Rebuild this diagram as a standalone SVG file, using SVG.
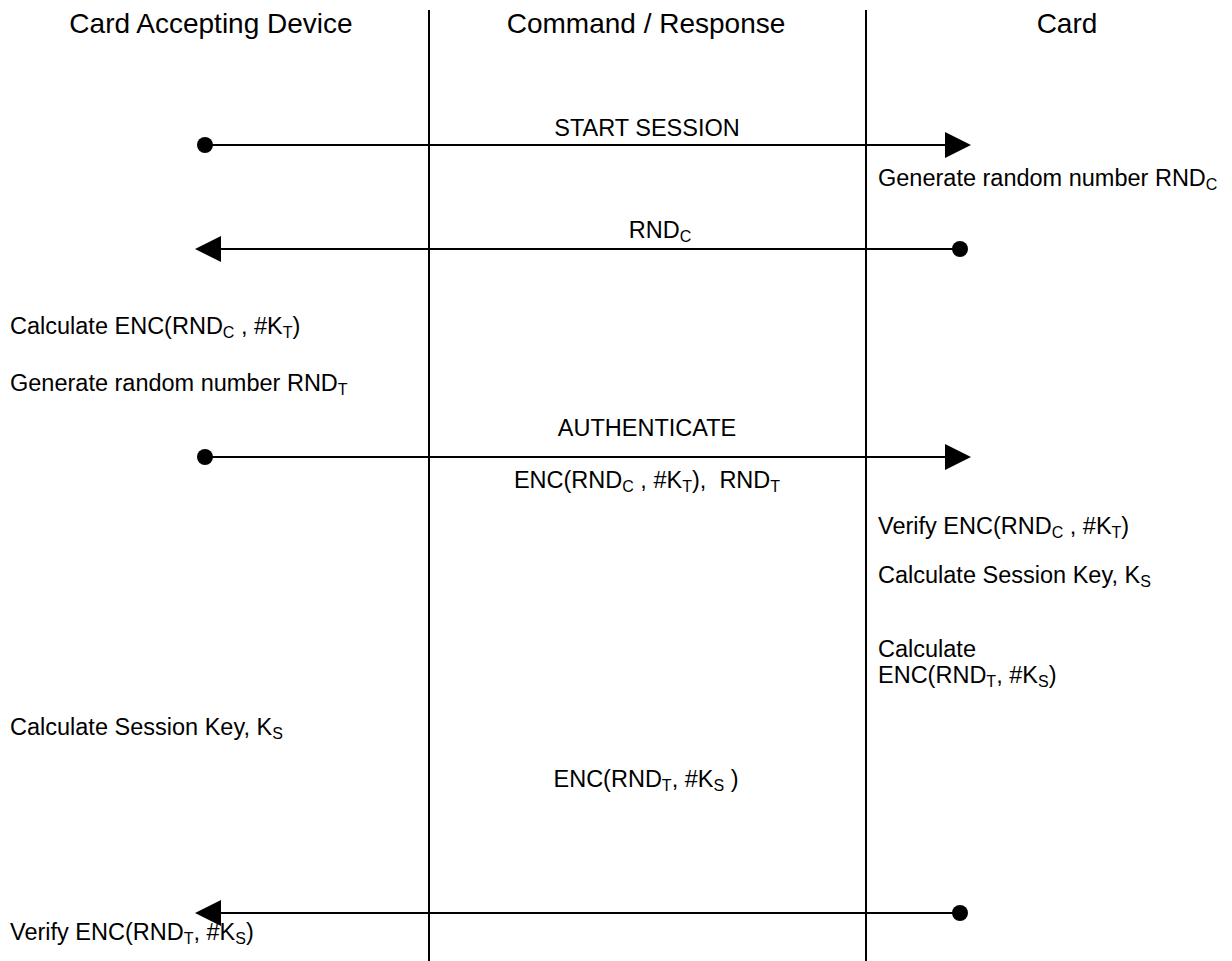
<svg xmlns="http://www.w3.org/2000/svg" width="1232" height="961" viewBox="0 0 1232 961">
  <style>
    text { font-family: "Liberation Sans", Arial, sans-serif; fill: #000; }
    .hdr { font-size: 28px; text-anchor: middle; }
    .lbl { font-size: 23.5px; }
    .mid { text-anchor: middle; }
    .sub { font-size: 16px; }
    .lane { stroke: #000; stroke-width: 2; }
    .msg { stroke: #000; stroke-width: 2; fill: none; }
    .dot { fill: #000; }
    .head { fill: #000; }
  </style>

  <!-- swimlane headers -->
  <g id="lane-headers">
    <text class="hdr" x="211" y="33">Card Accepting Device</text>
    <text class="hdr" x="646" y="33">Command / Response</text>
    <text class="hdr" x="1067" y="33">Card</text>
  </g>

  <!-- lane separators -->
  <g id="lanes">
    <line class="lane" x1="429" y1="10" x2="429" y2="961"/>
    <line class="lane" x1="866" y1="10" x2="866" y2="961"/>
  </g>

  <!-- messages between device and card -->
  <g id="connectors">
    <g id="msg-start-session">
      <line class="msg" x1="205" y1="145" x2="946" y2="145"/>
      <circle class="dot" cx="205" cy="145" r="8"/>
      <polygon class="head" points="945,132 971,145 945,158"/>
    </g>
    <g id="msg-rndc">
      <line class="msg" x1="220" y1="249" x2="960" y2="249"/>
      <circle class="dot" cx="960" cy="249" r="8"/>
      <polygon class="head" points="221,236 195,249 221,262"/>
    </g>
    <g id="msg-authenticate">
      <line class="msg" x1="205" y1="457" x2="946" y2="457"/>
      <circle class="dot" cx="205" cy="457" r="8"/>
      <polygon class="head" points="945,444 971,457 945,470"/>
    </g>
    <g id="msg-response">
      <line class="msg" x1="220" y1="913" x2="960" y2="913"/>
      <circle class="dot" cx="960" cy="913" r="8"/>
      <polygon class="head" points="221,900 195,913 221,926"/>
    </g>
  </g>

  <!-- command / response labels -->
  <g id="cmd-start-session">
    <text class="lbl mid" x="647" y="136">START SESSION</text>
  </g>
  <g id="cmd-rndc">
    <text class="lbl mid" x="660" y="238">RND<tspan class="sub" dy="4">C</tspan></text>
  </g>
  <g id="cmd-authenticate">
    <text class="lbl mid" x="647" y="436">AUTHENTICATE</text>
    <text class="lbl mid" x="647" y="488">ENC(RND<tspan class="sub" dy="4">C</tspan><tspan dy="-4"> , #K</tspan><tspan class="sub" dy="4">T</tspan><tspan dy="-4">), &#160;RND</tspan><tspan class="sub" dy="4">T</tspan></text>
  </g>
  <g id="cmd-response">
    <text class="lbl mid" x="646" y="787">ENC(RND<tspan class="sub" dy="4">T</tspan><tspan dy="-4">, #K</tspan><tspan class="sub" dy="4">S</tspan><tspan dy="-4"> )</tspan></text>
  </g>

  <!-- card actions -->
  <g id="card-generate-rndc">
    <text class="lbl" x="878" y="186">Generate random number RND<tspan class="sub" dy="4">C</tspan></text>
  </g>
  <g id="card-verify">
    <text class="lbl" x="878" y="534">Verify ENC(RND<tspan class="sub" dy="4">C</tspan><tspan dy="-4"> , #K</tspan><tspan class="sub" dy="4">T</tspan><tspan dy="-4">)</tspan></text>
  </g>
  <g id="card-session-key">
    <text class="lbl" x="878" y="583">Calculate Session Key, K<tspan class="sub" dy="4">S</tspan></text>
  </g>
  <g id="card-calc-enc">
    <text class="lbl" x="878" y="657">Calculate</text>
    <text class="lbl" x="878" y="683">ENC(RND<tspan class="sub" dy="4">T</tspan><tspan dy="-4">, #K</tspan><tspan class="sub" dy="4">S</tspan><tspan dy="-4">)</tspan></text>
  </g>

  <!-- device actions -->
  <g id="cad-calc-enc">
    <text class="lbl" x="10" y="334">Calculate ENC(RND<tspan class="sub" dy="4">C</tspan><tspan dy="-4"> , #K</tspan><tspan class="sub" dy="4">T</tspan><tspan dy="-4">)</tspan></text>
  </g>
  <g id="cad-generate-rndt">
    <text class="lbl" x="10" y="391">Generate random number RND<tspan class="sub" dy="4">T</tspan></text>
  </g>
  <g id="cad-session-key">
    <text class="lbl" x="10" y="735">Calculate Session Key, K<tspan class="sub" dy="4">S</tspan></text>
  </g>
  <g id="cad-verify">
    <text class="lbl" x="10" y="940">Verify ENC(RND<tspan class="sub" dy="4">T</tspan><tspan dy="-4">, #K</tspan><tspan class="sub" dy="4">S</tspan><tspan dy="-4">)</tspan></text>
  </g>
</svg>
